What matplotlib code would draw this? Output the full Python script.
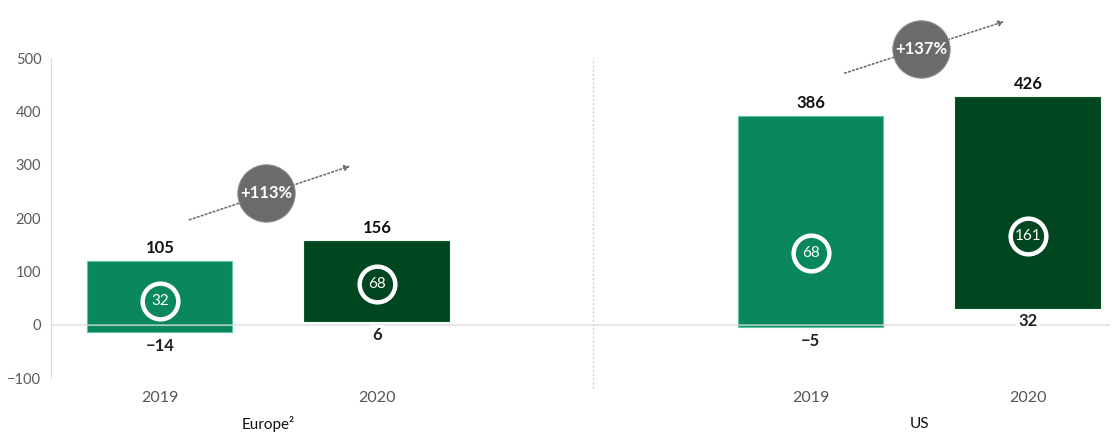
import numpy as np
import matplotlib.pyplot as plt

# Operating result by region, floating bars (low / high) with a badge value inside
regions = ["Europe\u00b2", "US"]
years = ["2019", "2020", "2019", "2020"]
low = [-14, 6, -5, 32]
high = [105, 156, 386, 426]
badge = [32, 68, 68, 161]
growth = ["+113%", "+137%"]

# layout only
xpos = [0, 1, 3, 4]
badge_y = [45, 77, 135, 167]
light = "#0a875c"
dark = "#00461f"
colors = [light, dark, light, dark]
edges = ["#5cc79c", "#0b5a2e", "#5cc79c", "#0b5a2e"]

plt.rcParams['font.family'] = ['Lato', 'DejaVu Sans']

fig = plt.figure(figsize=(11.17, 4.32), dpi=100)
ax = fig.add_axes([51 / 1117, (432 - 378) / 432, (1110 - 51) / 1117, 320 / 432])
ax.set_xlim(-0.502, 4.378)
ax.set_ylim(-100, 500)

# bars drawn the way a stacked chart does it: negative part below zero,
# the full span stacked on top of zero
for x, lo, hi, c, e in zip(xpos, low, high, colors, edges):
    if lo < 0:
        ax.bar(x, lo, width=0.668, color=c, edgecolor=e, linewidth=0.8, zorder=2)
        ax.bar(x, hi - lo, width=0.668, color=c, edgecolor=e, linewidth=0.8, zorder=2)
        top = hi - lo
    else:
        ax.bar(x, hi - lo, bottom=lo, width=0.668, color=c, edgecolor=e,
               linewidth=0.8, zorder=2)
        top = hi
    ax.annotate(str(hi), (x, top), xytext=(0, 9.5), textcoords="offset points",
                ha="center", va="center", fontsize=12, fontweight="bold",
                color="#111111", zorder=5)
    bot = min(lo, 0) if lo < 0 else lo
    ax.annotate("\u2212" + str(-lo) if lo < 0 else str(lo), (x, bot),
                xytext=(0, -10), textcoords="offset points", ha="center",
                va="center", fontsize=12, fontweight="bold", color="#222222",
                zorder=5,
                bbox=dict(boxstyle="square,pad=0.15", fc="white", ec="none")
                if lo > 0 else None)

# badges inside the bars
for x, y, v, c in zip(xpos, badge_y, badge, colors):
    ax.scatter([x], [y], s=660, facecolor=c, edgecolor="white", linewidth=3.2,
               zorder=4, clip_on=False)
    ax.text(x, y, str(v), ha="center", va="center", color="white",
            fontsize=11, zorder=5)

# growth arrows and grey bubbles
arrows = [((0.124, 195), (0.889, 299)), ((3.143, 470), (3.903, 570))]
bubbles = [(0.49, 246), (3.507, 517)]
for (p0, p1), (bx, by), g in zip(arrows, bubbles, growth):
    ax.annotate("", xy=p1, xytext=p0, annotation_clip=False,
                arrowprops=dict(arrowstyle="-|>", linestyle=(0, (1, 1.5)),
                                color="#6f6f6f", lw=1.2, mutation_scale=8),
                zorder=3)
    ax.scatter([bx], [by], s=1700, color="#6b6b6b", edgecolor="#8a8a8a",
               linewidth=0.8, zorder=4, clip_on=False)
    ax.text(bx, by, g, ha="center", va="center", color="white",
            fontsize=12, fontweight="bold", zorder=5, clip_on=False)

# zero line and region separator
ax.axhline(0, color="#d6d6d6", lw=1.2, alpha=0.7, zorder=3)
ax.axvline(1.995, ymin=-0.03, ymax=1.0, color="#cfcfcf", lw=1,
           linestyle=(0, (1.5, 1.5)), zorder=1, clip_on=False)

# category labels
for x, yr in zip(xpos, years):
    ax.text(x, -137, yr, ha="center", va="center", fontsize=11.5,
            color="#555555", clip_on=False)
for x, r in zip([0.5, 3.5], regions):
    ax.text(x, -186, r, ha="center", va="center", fontsize=11,
            color="#111111", clip_on=False)

ax.set_xticks([])
ax.set_yticks(np.arange(-100, 501, 100))
ax.set_yticklabels([("\u2212" + str(-t)) if t < 0 else str(t)
                    for t in range(-100, 501, 100)])
ax.tick_params(axis="y", length=0, pad=7, labelsize=10.5, labelcolor="#5a5a5a")
for s in ["top", "right", "bottom"]:
    ax.spines[s].set_visible(False)
ax.spines["left"].set_color("#dcdcdc")

fig.savefig("out.png", dpi=100)
